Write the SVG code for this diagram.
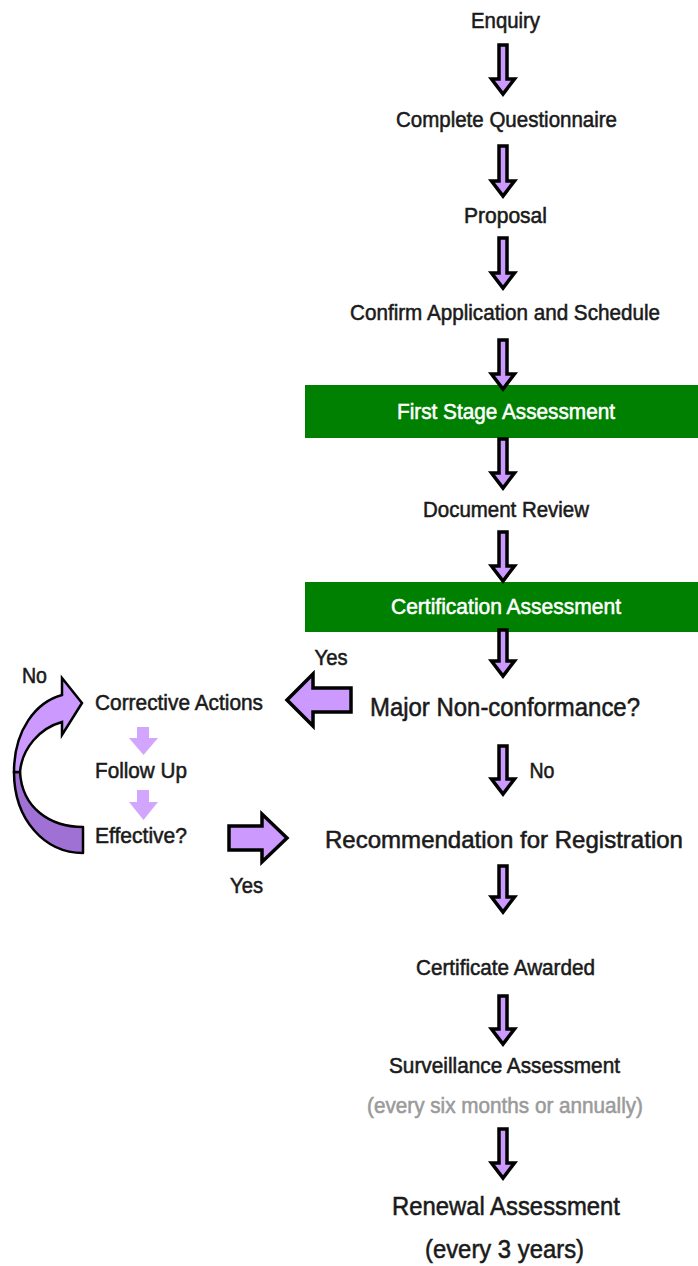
<svg xmlns="http://www.w3.org/2000/svg" width="698" height="1266" viewBox="0 0 698 1266">
<defs>
<style>
.t{font-family:"Liberation Sans",Arial,sans-serif;font-size:22px;fill:#1a1a1a;stroke:#1a1a1a;stroke-width:0.55px;text-anchor:middle}
.big{font-size:26px}
.rec{font-size:24px}
.w{fill:#ffffff;stroke:#ffffff}
.g{fill:#9a9a9a;stroke:#9a9a9a}
.arr{fill:#cc99ff;stroke:#000;stroke-width:3.5;stroke-linejoin:miter}
.soft{fill:#d2a6ff;stroke:none}
.box{fill:#008000}
</style>
</defs>
<rect width="698" height="1266" fill="#ffffff"/>

<g id="n-enquiry"><text class="t" x="505.5" y="28" textLength="69" lengthAdjust="spacingAndGlyphs">Enquiry</text></g>
<g id="n-questionnaire"><text class="t" x="506.5" y="127" textLength="221" lengthAdjust="spacingAndGlyphs">Complete Questionnaire</text></g>
<g id="n-proposal"><text class="t" x="505.5" y="223" textLength="83" lengthAdjust="spacingAndGlyphs">Proposal</text></g>
<g id="n-confirm"><text class="t" x="505" y="320" textLength="310" lengthAdjust="spacingAndGlyphs">Confirm Application and Schedule</text></g>
<g id="n-first-stage"><rect class="box" x="305" y="385" width="393" height="53"/><text class="t w" x="506" y="419" textLength="218" lengthAdjust="spacingAndGlyphs">First Stage Assessment</text></g>
<g id="n-document"><text class="t" x="506" y="517" textLength="166" lengthAdjust="spacingAndGlyphs">Document Review</text></g>
<g id="n-certification"><rect class="box" x="305" y="582" width="393" height="50"/><text class="t w" x="506" y="614" textLength="230" lengthAdjust="spacingAndGlyphs">Certification Assessment</text></g>
<g id="n-major"><text class="t big" x="505" y="716" textLength="270" lengthAdjust="spacingAndGlyphs">Major Non-conformance?</text></g>
<g id="n-corrective"><text class="t" x="179" y="710" textLength="168" lengthAdjust="spacingAndGlyphs">Corrective Actions</text></g>
<g id="n-follow"><text class="t" x="141" y="778" textLength="92" lengthAdjust="spacingAndGlyphs">Follow Up</text></g>
<g id="n-effective"><text class="t" x="141" y="843" textLength="92" lengthAdjust="spacingAndGlyphs">Effective?</text></g>
<g id="n-recommendation"><text class="t rec" x="504" y="848" textLength="358" lengthAdjust="spacingAndGlyphs">Recommendation for Registration</text></g>
<g id="n-certificate"><text class="t" x="505.5" y="975" textLength="179" lengthAdjust="spacingAndGlyphs">Certificate Awarded</text></g>
<g id="n-surveillance"><text class="t" x="504.5" y="1073" textLength="231" lengthAdjust="spacingAndGlyphs">Surveillance Assessment</text><text class="t g" x="505" y="1113" textLength="276" lengthAdjust="spacingAndGlyphs">(every six months or annually)</text></g>
<g id="n-renewal"><text class="t big" x="506" y="1215" textLength="228" lengthAdjust="spacingAndGlyphs">Renewal Assessment</text><text class="t big" x="504.5" y="1258" textLength="159" lengthAdjust="spacingAndGlyphs">(every 3 years)</text></g>

<g id="connectors">
<path class="arr" d="M499,45 L507,45 L507,79 L514.5,79 L503,94 L491.5,79 L499,79 Z"/>
<path class="arr" d="M499,146 L507,146 L507,181 L514.5,181 L503,196 L491.5,181 L499,181 Z"/>
<path class="arr" d="M499,238 L507,238 L507,273 L514.5,273 L503,288 L491.5,273 L499,273 Z"/>
<path class="arr" d="M499,340 L507,340 L507,374 L514.5,374 L503,389 L491.5,374 L499,374 Z"/>
<path class="arr" d="M499,439 L507,439 L507,473 L514.5,473 L503,488 L491.5,473 L499,473 Z"/>
<path class="arr" d="M499,532 L507,532 L507,566 L514.5,566 L503,581 L491.5,566 L499,566 Z"/>
<path class="arr" d="M499,630 L507,630 L507,661 L514.5,661 L503,676 L491.5,661 L499,661 Z"/>
<text class="t" x="331" y="665" textLength="33" lengthAdjust="spacingAndGlyphs">Yes</text>
<path class="arr" d="M351,688 L313,688 L313,674 L287,700 L313,726 L313,712 L351,712 Z"/>
<path class="arr" d="M499,746 L507,746 L507,779 L514.5,779 L503,794 L491.5,779 L499,779 Z"/>
<text class="t" x="542" y="778" textLength="25" lengthAdjust="spacingAndGlyphs">No</text>
<path class="soft" d="M137,727 L149,727 L149,738 L158,738 L143.5,755 L129,738 L137,738 Z"/>
<path class="soft" d="M137,790 L149,790 L149,802 L158,802 L143.5,820 L129,802 L137,802 Z"/>
<path d="M14,772 C14,820 45,853 83,853 L83,827 C50,827 22,808 20,772 Z" fill="#a071d4" stroke="#000" stroke-width="2.5" stroke-linejoin="round"/>
<path d="M62,678 L82,703 L62,735 L62,722 C40,728 22,748 20,772 L14,772 C14,730 36,702 62,695 Z" fill="#cc99ff" stroke="#000" stroke-width="2.5" stroke-linejoin="miter"/>
<text class="t" x="34.5" y="683" textLength="25" lengthAdjust="spacingAndGlyphs">No</text>
<path class="arr" d="M229,826 L262,826 L262,814 L287,838 L262,862 L262,850 L229,850 Z"/>
<text class="t" x="246.5" y="893" textLength="33" lengthAdjust="spacingAndGlyphs">Yes</text>
<path class="arr" d="M499,866 L507,866 L507,897 L514.5,897 L503,912 L491.5,897 L499,897 Z"/>
<path class="arr" d="M499,996 L507,996 L507,1029 L514.5,1029 L503,1044 L491.5,1029 L499,1029 Z"/>
<path class="arr" d="M499,1129 L507,1129 L507,1163 L514.5,1163 L503,1178 L491.5,1163 L499,1163 Z"/>
</g>
</svg>
